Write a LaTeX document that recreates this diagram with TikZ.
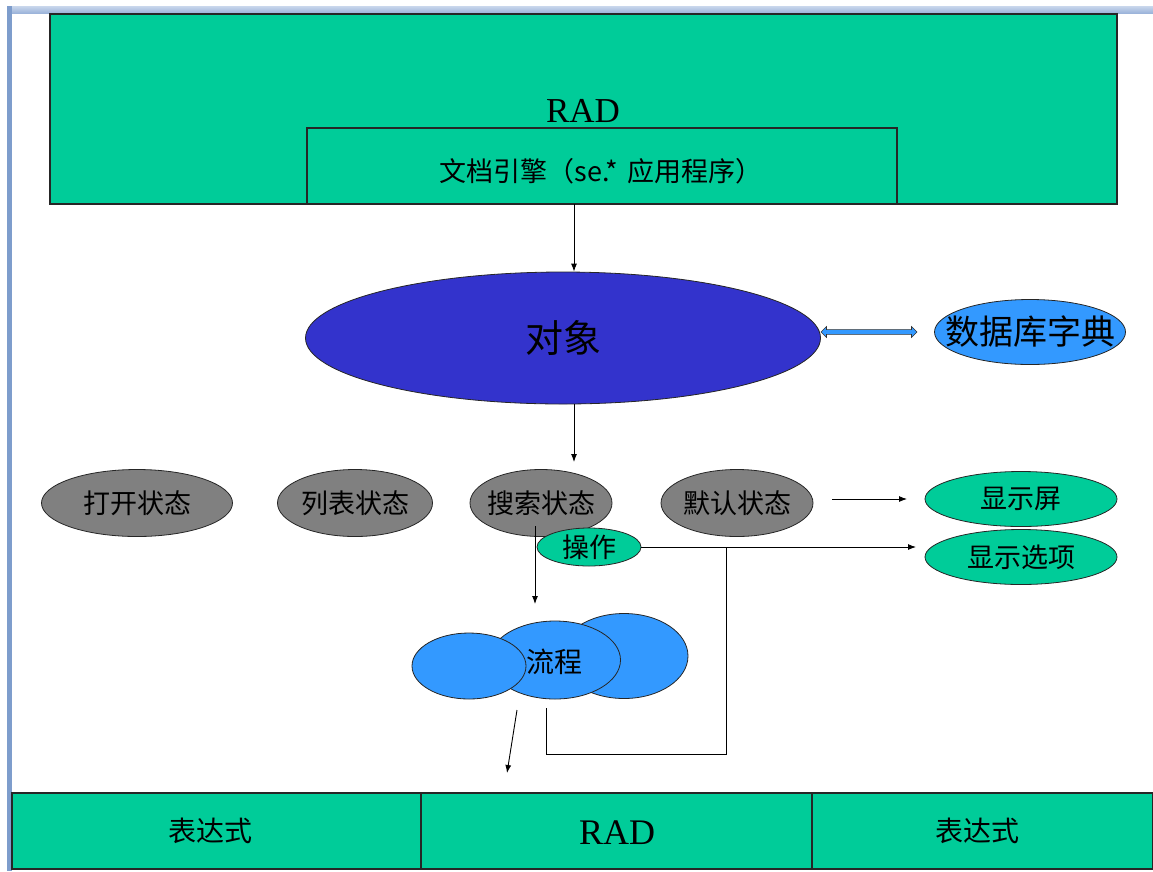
\documentclass[tikz,border=0pt]{standalone}
\usepackage{fontspec}
\setmainfont{Liberation Serif}
\newfontfamily\cjk{Noto Sans CJK SC}
\usetikzlibrary{shapes.geometric,shapes.arrows,arrows.meta}
\definecolor{tealg}{HTML}{00CC99}
\definecolor{objblue}{HTML}{3333CC}
\definecolor{skyb}{HTML}{3399FF}
\definecolor{grayf}{HTML}{808080}
\definecolor{frameA}{HTML}{C9D7EC}
\definecolor{frameB}{HTML}{9CB4DA}
\definecolor{frameL}{HTML}{7E9DCC}
\tikzset{
  box/.style={draw=black!85, line width=1.2pt, fill=tealg},
  ell/.style={ellipse, draw=black!85, line width=0.8pt, inner sep=0pt},
  grayell/.style={ell, fill=grayf, minimum height=67pt},
  greenell/.style={ell, fill=tealg},
  conn/.style={draw=black, line width=0.9pt},
  arr/.style={conn, -{Latex[length=8pt,width=6pt]}},
  fz/.style={font=\cjk\fontsize{#1}{#1}\selectfont},
  lbl/.style 2 args={label={[fz=#1]center:#2}}
}
\begin{document}
\begin{tikzpicture}[x=1pt,y=-1pt]
\useasboundingbox (0,0) rectangle (1153,871);
% slide frame
\shade[top color=frameA, bottom color=frameB] (7,6) rectangle (1153,13);
\fill[frameL] (7,6) rectangle (12,871);
% top boxes
\path[box] (50,14) rectangle (1117,204);
\node[font=\fontsize{35}{35}\selectfont] (rad1) at (583,111) {RAD};
\path[box] (307,128) rectangle (897,204);
\node[fz=27] (engine) at (601,171) {文档引擎（se.*\,\,应用程序）};
\coordinate (engbot) at (574,204);
% object ellipse
\node[ell, fill=objblue, minimum width=515pt, minimum height=132pt, lbl={38}{对象}] (obj) at (563,338) {};
\node[ell, fill=skyb, minimum width=191pt, minimum height=65pt, lbl={34}{数据库字典}] (dict) at (1030,332) {};
\node[double arrow, draw=black!80, line width=0.6pt, fill=skyb, minimum height=96pt, minimum width=11pt, inner sep=2pt, double arrow head extend=3pt, double arrow head indent=0pt] (dbl) at (869,332) {};
\draw[arr] (engbot) -- (engbot |- obj.north);
\coordinate (objbot) at (574,404);
% state ellipses
\node[grayell, minimum width=191pt, lbl={27}{打开状态}] (open) at (137,503) {};
\node[grayell, minimum width=155pt, lbl={27}{列表状态}] (list) at (355,503) {};
\node[grayell, minimum width=142pt, lbl={27}{搜索状态}] (search) at (541,503) {};
\node[grayell, minimum width=152pt, lbl={27}{默认状态}] (default) at (737,503) {};
\draw[arr] (objbot) -- (574,462);
% right green ellipses
\node[greenell, minimum width=192pt, minimum height=55pt, lbl={27}{显示屏}] (screen) at (1021,499) {};
\node[greenell, minimum width=192pt, minimum height=55pt, lbl={27}{显示选项}] (opts) at (1021,557) {};
\coordinate (da1) at (832,499);
\draw[arr] (da1) -- (907,499);
% flow cluster
\node[ell, fill=skyb, minimum width=128pt, minimum height=85pt] (flowR) at (624,656) {};
\node[ell, fill=skyb, minimum width=131pt, minimum height=78pt] (flowM) at (555,660) {};
\node[ell, fill=skyb, minimum width=114pt, minimum height=66pt] (flowL) at (469,666) {};
\node[fz=28] (flowt) at (554,662) {流程};
% search -> flow
\coordinate (sdown) at (535,526);
\draw[arr] (sdown) -- (535,604);
% operation
\node[greenell, minimum width=104pt, minimum height=38pt, lbl={27}{操作}] (op) at (589,547) {};
\coordinate (junc) at (726,547);
\coordinate (optarget) at (916,547);
\draw[arr] (op.east) -- (optarget);
\coordinate (fb) at (546,708);
\draw[conn] (junc) -- (726,754) -- (546,754) -- (fb);
% flow -> bottom
\coordinate (fl1) at (517,710);
\coordinate (fl2) at (507,773);
\draw[arr] (fl1) -- (fl2);
% bottom bar
\path[box] (12,793) rectangle (421,869);
\path[box] (421,793) rectangle (812,869);
\path[box] (812,793) rectangle (1153,869);
\node[fz=28] (expr1) at (210,831) {表达式};
\node[font=\fontsize{36}{36}\selectfont] (rad2) at (617,833) {RAD};
\node[fz=28] (expr2) at (977,831) {表达式};
\end{tikzpicture}
\end{document}
